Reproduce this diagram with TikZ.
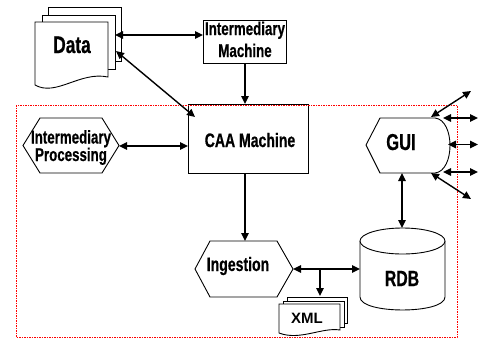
\documentclass[tikz,border=0pt]{standalone}
\usepackage{fontspec}
\setmainfont{Liberation Sans}
\newfontfamily\narrowfont{Liberation Sans}[FakeStretch=0.72, FakeBold=0.6]
\usetikzlibrary{arrows.meta}
\begin{document}
\begin{tikzpicture}[x=1pt,y=-1pt,
  shp/.style={draw=black, line width=0.9pt, fill=white, line join=miter},
  tipend/.tip={Triangle[length=8pt,width=7.5pt]},
  conn/.style={line width=1.4pt, -tipend},
  bconn/.style={line width=1.4pt, tipend-tipend},
  lab/.style={font=\narrowfont\bfseries\fontsize{#1}{#1}\selectfont, inner sep=0pt, anchor=base},
  zone/.style={draw=red, line width=1pt, dash pattern=on 1.5pt off 1pt},
]
\useasboundingbox (0,0) rectangle (479,338);

% ---------- Data (multi-document)
\draw[shp] (48,7) rectangle (121,61);
\draw[shp] (42,15) rectangle (115,69);
\draw[shp] (35,22) -- (108,22) -- (108,77) .. controls (80,71) and (56,97) .. (35,85) -- cycle;
\node[lab=24] (data) at (72,53) {Data};
\coordinate (data-e) at (115,35);
\coordinate (data-se) at (116,51);

% ---------- Intermediary Machine
\draw[shp] (203,20) rectangle (286,63);
\node[lab=18.5] (im1) at (245,35) {Intermediary};
\node[lab=18.5] (im2) at (245,57) {Machine};
\coordinate (im-w) at (203,35);
\coordinate (im-s) at (245,63);

% ---------- CAA Machine
\draw[shp] (188,104) rectangle (308,173);
\node[lab=19.5] (caa) at (250,147) {CAA Machine};
\coordinate (caa-n) at (245,104);
\coordinate (caa-nw) at (195,117);
\coordinate (caa-w) at (188,146);
\coordinate (caa-s) at (245,173);

% ---------- Intermediary Processing (hexagon)
\draw[shp] (23,145.5) -- (40,118) -- (102,118) -- (119,145.5) -- (102,173) -- (40,173) -- cycle;
\node[lab=18.5] (ip1) at (71,143.5) {Intermediary};
\node[lab=18.5] (ip2) at (71,161) {Processing};
\coordinate (ip-e) at (119,146);

% ---------- Ingestion (hexagon)
\draw[shp] (195,269) -- (210,241) -- (277,241) -- (293,269) -- (277,297) -- (210,297) -- cycle;
\node[lab=19.5] (ing) at (238,271) {Ingestion};
\coordinate (ing-n) at (245,241);
\coordinate (ing-e) at (293,269);
\coordinate (split) at (320,269);

% ---------- RDB (cylinder)
\draw[shp] (360,241) -- (360,297) .. controls (360,314.3) and (445,314.3) .. (445,297) -- (445,241);
\draw[shp] (402.5,241) ellipse [x radius=42.5, y radius=13];
\node[lab=22] (rdb) at (402,286) {RDB};
\coordinate (rdb-n) at (402,228);
\coordinate (rdb-w) at (360,269);

% ---------- XML (multi-document)
\draw[shp] (287,297) rectangle (347,323);
\draw[shp] (283,301) rectangle (344,327);
\draw[shp] (279,304) -- (340,304) -- (340,330) .. controls (322,327) and (300,341) .. (279,333) -- cycle;
\node[font=\bfseries\fontsize{15}{15}\selectfont, inner sep=0pt, anchor=base] (xml) at (307,323) {XML};
\coordinate (xml-n) at (320,296);

% ---------- GUI (display)
\draw[shp] (366,145) -- (380,118) -- (435,118) .. controls (455,120) and (455,171) .. (435,173) -- (380,173) -- cycle;
\node[lab=23] (gui) at (401,150) {GUI};
\coordinate (gui-ne) at (431,117);
\coordinate (gui-e1) at (443,118);
\coordinate (gui-e2) at (448,144.5);
\coordinate (gui-e3) at (443,172);
\coordinate (gui-se) at (431,173);
\coordinate (gui-s) at (402,173);

% free ends on the right
\coordinate (out1) at (471,91);
\coordinate (out2) at (478,118);
\coordinate (out3) at (478,144.5);
\coordinate (out4) at (478,172);
\coordinate (out5) at (471,199);

% ---------- zone
\draw[zone] (16,105) rectangle (457,337);

% ---------- connectors
\draw[bconn] (data-e) -- (im-w);
\draw[bconn] (data-se) -- (caa-nw);
\draw[conn] (im-s) -- (caa-n);
\draw[bconn] (ip-e) -- (caa-w);
\draw[conn] (caa-s) -- (ing-n);
\draw[bconn] (ing-e) -- (rdb-w);
\draw[conn] (split) -- (xml-n);
\draw[bconn] (gui-s) -- (rdb-n);
\draw[bconn] (gui-ne) -- (out1);
\draw[bconn] (gui-e1) -- (out2);
\draw[bconn] (gui-e2) -- (out3);
\draw[bconn] (gui-e3) -- (out4);
\draw[bconn] (gui-se) -- (out5);
\end{tikzpicture}
\end{document}
